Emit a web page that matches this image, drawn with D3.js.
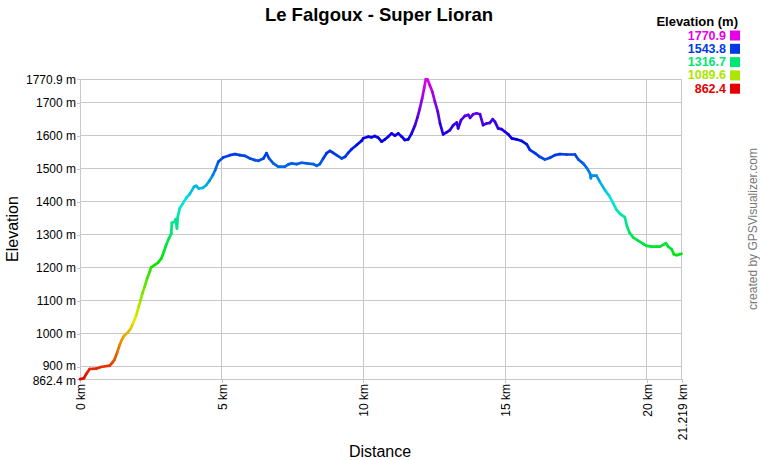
<!DOCTYPE html>
<html><head><meta charset="utf-8">
<script src="https://cdn.jsdelivr.net/npm/d3@7"></script>
<style>body{margin:0;background:#fff}svg{display:block}text{font-family:Arial,"Liberation Sans",sans-serif}</style>
</head><body><svg id="c" width="760" height="460"></svg>
<script>
const chartTitle = "Le Falgoux - Super Lioran";
const distanceKm = [0, 0.14, 0.22, 0.34, 0.57, 0.73, 1.05, 1.14, 1.22, 1.32, 1.40, 1.46, 1.55, 1.69, 1.79, 1.87, 1.99, 2.07, 2.14, 2.20, 2.28, 2.37, 2.46, 2.51, 2.63, 2.75, 2.87, 2.96, 3.04, 3.14, 3.22, 3.24, 3.34, 3.38, 3.42, 3.45, 3.52, 3.63, 3.75, 3.87, 4.02, 4.10, 4.19, 4.34, 4.45, 4.57, 4.69, 4.77,
  4.88, 5.05, 5.29, 5.47, 5.64, 5.82, 6.00, 6.17, 6.29, 6.47, 6.58, 6.67, 6.82, 6.99, 7.23, 7.35, 7.47, 7.64, 7.82, 8.00, 8.23, 8.35, 8.46, 8.58, 8.70, 8.82, 8.93, 9.05, 9.23, 9.35, 9.46, 9.58, 9.76, 9.94,
  9.99, 10.17, 10.29, 10.40, 10.52, 10.64, 10.76, 10.87, 10.99, 11.11, 11.23, 11.35, 11.46, 11.58, 11.70, 11.82, 11.91, 11.99, 12.07, 12.14, 12.20, 12.26, 12.34, 12.43, 12.52, 12.62, 12.70, 12.81, 12.93, 13.05, 13.17, 13.29, 13.34, 13.44, 13.58, 13.70, 13.76, 13.87, 13.99, 14.11, 14.22, 14.34, 14.46, 14.56, 14.64, 14.75, 14.87,
  14.99, 15.11, 15.23, 15.40, 15.58, 15.76, 15.87, 16.05, 16.22, 16.40, 16.58, 16.75, 16.93, 17.17, 17.46, 17.58, 17.75, 17.89, 17.99, 18.02, 18.05, 18.22, 18.34, 18.52, 18.69, 18.81, 18.93, 19.05, 19.22, 19.30, 19.40, 19.52, 19.69, 19.87, 19.99, 20.16, 20.34, 20.46, 20.57, 20.67, 20.75, 20.87, 20.95, 21.05, 21.16, 21.219];
const elevationM = [862.4, 865, 878, 893, 894, 899, 903, 912, 922, 945, 966, 979, 993, 1004, 1016, 1031, 1057, 1082, 1102, 1122, 1142, 1168, 1188, 1201, 1208, 1215, 1228, 1248, 1269, 1289, 1304, 1336, 1339, 1347, 1319, 1354, 1380, 1395, 1412, 1423, 1445, 1448, 1440, 1442, 1450, 1464, 1481, 1496,
  1521, 1534, 1541, 1544, 1541, 1539, 1531, 1526, 1524, 1531, 1547, 1531, 1516, 1506, 1506, 1513, 1516, 1514, 1518, 1516, 1514, 1509, 1514, 1531, 1547, 1554, 1548, 1541, 1531, 1536, 1548, 1559, 1572, 1585,
  1592, 1597, 1595, 1599, 1594, 1582, 1589, 1597, 1607, 1600, 1607, 1597, 1587, 1589, 1607, 1632, 1657, 1683, 1713, 1744, 1770.9, 1770, 1753, 1733, 1703, 1673, 1637, 1604, 1610, 1617, 1632, 1640, 1622, 1647, 1660, 1663, 1654, 1665, 1668, 1665, 1632, 1637, 1639, 1650, 1642, 1622, 1620,
  1612, 1604, 1592, 1589, 1584, 1574, 1557, 1547, 1536, 1528, 1533, 1541, 1544, 1543, 1543, 1528, 1516, 1501, 1486, 1471, 1479, 1479, 1460, 1435, 1415, 1395, 1375, 1363, 1353, 1324, 1304, 1291, 1282, 1272, 1266, 1264, 1264, 1264, 1269, 1274, 1264, 1256, 1241, 1238, 1241, 1242];
const yTickValues = [862.4, 900, 1000, 1100, 1200, 1300, 1400, 1500, 1600, 1700, 1770.9];
const xTickValues = [0, 5, 10, 15, 20, 21.219];
const legendValues = [1770.9, 1543.8, 1316.7, 1089.6, 862.4];

const svg = d3.select("#c");
const L = 80, R = 681.5, T = 79.3, B = 379.1;
const minE = d3.min(elevationM), maxE = d3.max(elevationM);
const x = d3.scaleLinear().domain([0, d3.max(distanceKm)]).range([L, R]);
const y = d3.scaleLinear().domain([minE, maxE]).range([B, T]);
const hue = d3.scaleLinear().domain([minE, maxE]).range([0, 300]);
const col = e => d3.hsl(hue(e), 1, 0.45).formatHex();

// grid
const grid = svg.append("g").attr("stroke", "#c8c8c8").attr("stroke-width", 1).attr("shape-rendering", "crispEdges");
grid.selectAll(".h").data(yTickValues).join("line")
  .attr("x1", L).attr("x2", R).attr("y1", d => y(d)).attr("y2", d => y(d));
grid.selectAll(".v").data(xTickValues).join("line")
  .attr("y1", T).attr("y2", B).attr("x1", d => x(d)).attr("x2", d => x(d));

// axes
const ya = svg.append("g").attr("transform", `translate(${L},0)`)
  .call(d3.axisLeft(y).tickValues(yTickValues).tickSize(3).tickPadding(1).tickFormat(d => d + " m"));
const xa = svg.append("g").attr("transform", `translate(0,${B})`)
  .call(d3.axisBottom(x).tickValues(xTickValues).tickSize(4).tickFormat(d => d + " km"));
[ya, xa].forEach(a => {
  a.select(".domain").attr("stroke", "#c8c8c8").attr("shape-rendering", "crispEdges");
  a.selectAll(".tick line").attr("stroke", "#c8c8c8").attr("shape-rendering", "crispEdges");
  a.selectAll("text").attr("font-size", 12).attr("fill", "#000").attr("font-family", "Arial, 'Liberation Sans', sans-serif");
});
ya.selectAll(".tick text").filter(d => d === minE).attr("dy", "0.45em");
ya.selectAll(".tick text").filter(d => d === 900).attr("dy", "0.25em");
xa.selectAll("text").attr("transform", "rotate(-90)").attr("text-anchor", "end")
  .attr("x", -5).attr("y", 4.5).attr("dy", 0);

// profile line, coloured by elevation
const pts = distanceKm.map((d, i) => [d, elevationM[i]]);
const segs = d3.pairs(pts);
svg.append("g").attr("fill", "none").attr("stroke-width", 2.7).attr("stroke-linecap", "round")
  .selectAll("line").data(segs).join("line")
  .attr("x1", d => x(d[0][0])).attr("y1", d => y(d[0][1]))
  .attr("x2", d => x(d[1][0])).attr("y2", d => y(d[1][1]))
  .attr("stroke", d => col((d[0][1] + d[1][1]) / 2));

// titles
svg.append("text").attr("x", 379).attr("y", 21).attr("text-anchor", "middle")
  .attr("font-size", 18.5).attr("font-weight", "bold").text(chartTitle);
svg.append("text").attr("x", 380).attr("y", 457).attr("text-anchor", "middle")
  .attr("font-size", 16).text("Distance");
svg.append("text").attr("transform", "translate(18,229) rotate(-90)").attr("text-anchor", "middle")
  .attr("font-size", 16).text("Elevation");
svg.append("text").attr("transform", "translate(757,229) rotate(-90)").attr("text-anchor", "middle")
  .attr("font-size", 12).attr("fill", "#777").text("created by GPSVisualizer.com");

// legend
svg.append("text").attr("x", 738).attr("y", 26).attr("text-anchor", "end")
  .attr("font-size", 13).attr("font-weight", "bold").text("Elevation (m)");
const lg = svg.append("g").selectAll("g").data(legendValues).join("g")
  .attr("transform", (d, i) => `translate(0,${39.5 + i * 13.3})`);
lg.append("text").attr("x", 726).attr("y", 0).attr("text-anchor", "end")
  .attr("font-size", 12.5).attr("font-weight", "bold").attr("fill", d => col(d)).text(d => d);
lg.append("rect").attr("x", 730).attr("y", -9).attr("width", 10).attr("height", 10).attr("fill", d => col(d));
</script></body></html>
